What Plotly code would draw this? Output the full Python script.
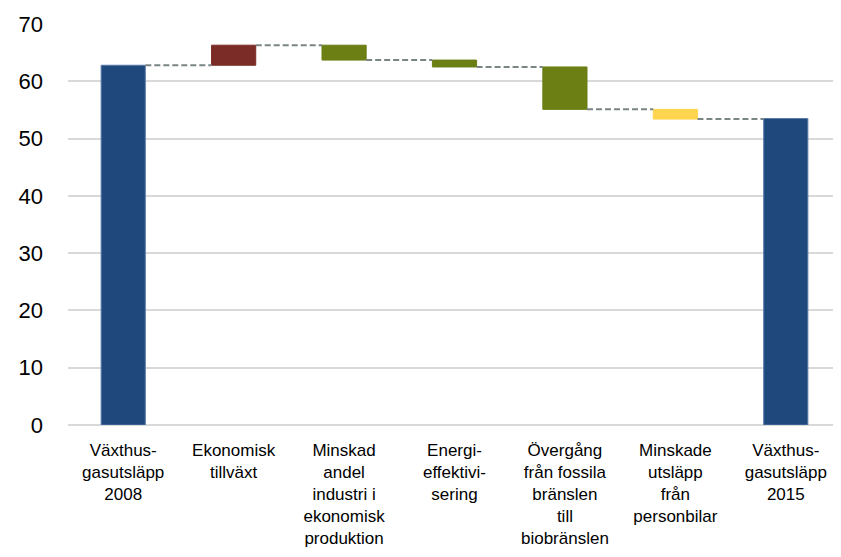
import plotly.graph_objects as go

categories = [
    "Växthus-<br>gasutsläpp<br>2008",
    "Ekonomisk<br>tillväxt",
    "Minskad<br>andel<br>industri i<br>ekonomisk<br>produktion",
    "Energi-<br>effektivi-<br>sering",
    "Övergång<br>från fossila<br>bränslen<br>till<br>biobränslen",
    "Minskade<br>utsläpp<br>från<br>personbilar",
    "Växthus-<br>gasutsläpp<br>2015",
]
start_total = 62.8
changes = [3.5, -2.6, -1.2, -7.4, -1.7]
end_total = 53.5
bar_colors = ["#1F497D", "#7B2C27", "#6B7F14", "#6B7F14", "#6B7F14", "#FFD54F", "#1F497D"]
y_ticks = [0, 10, 20, 30, 40, 50, 60, 70]

# compute bases and heights
bases = [0]
heights = [start_total]
levels = [start_total]
level = start_total
for d in changes:
    new = level + d
    bases.append(min(level, new))
    heights.append(abs(d))
    level = new
    levels.append(level)
bases.append(0)
heights.append(end_total)
levels.append(end_total)

xs = list(range(len(categories)))
bw = 0.4

fig = go.Figure()
line_cols = ["#5B7BA8" if c == "#1F497D" else c for c in bar_colors]
fig.add_trace(go.Bar(
    x=xs, y=heights, base=bases, width=bw,
    marker=dict(color=bar_colors, line=dict(color=line_cols, width=1)),
    showlegend=False, hoverinfo="skip",
))

# connectors
for i in range(len(categories) - 1):
    lv = levels[i]
    fig.add_trace(go.Scatter(
        x=[xs[i] + bw / 2, xs[i + 1] - bw / 2], y=[lv, lv],
        mode="lines", line=dict(color="#7A8586", width=2, dash="6px,3px"),
        showlegend=False, hoverinfo="skip",
    ))

font_fam = "Liberation Sans, Arial, sans-serif"
fig.update_layout(
    width=833, height=549,
    margin=dict(l=60, r=0, t=16, b=132),
    paper_bgcolor="white", plot_bgcolor="white",
    xaxis=dict(
        range=[-0.5, 6.5], tickvals=xs, ticktext=categories,
        showgrid=False, zeroline=False, showline=False, ticks="",
        tickfont=dict(family=font_fam, size=17, color="#000000"),
        ticklabelstandoff=13, automargin=False,
    ),
    yaxis=dict(
        range=[0, 70], tickvals=y_ticks,
        showgrid=True, gridcolor="#D9D9D9", gridwidth=1.5,
        zeroline=True, zerolinecolor="#D9D9D9", zerolinewidth=1.5,
        showline=False, ticks="",
        tickfont=dict(family=font_fam, size=22, color="#000000"),
        ticklabelstandoff=24, automargin=False,
    ),
)

fig.write_html("out.html")
